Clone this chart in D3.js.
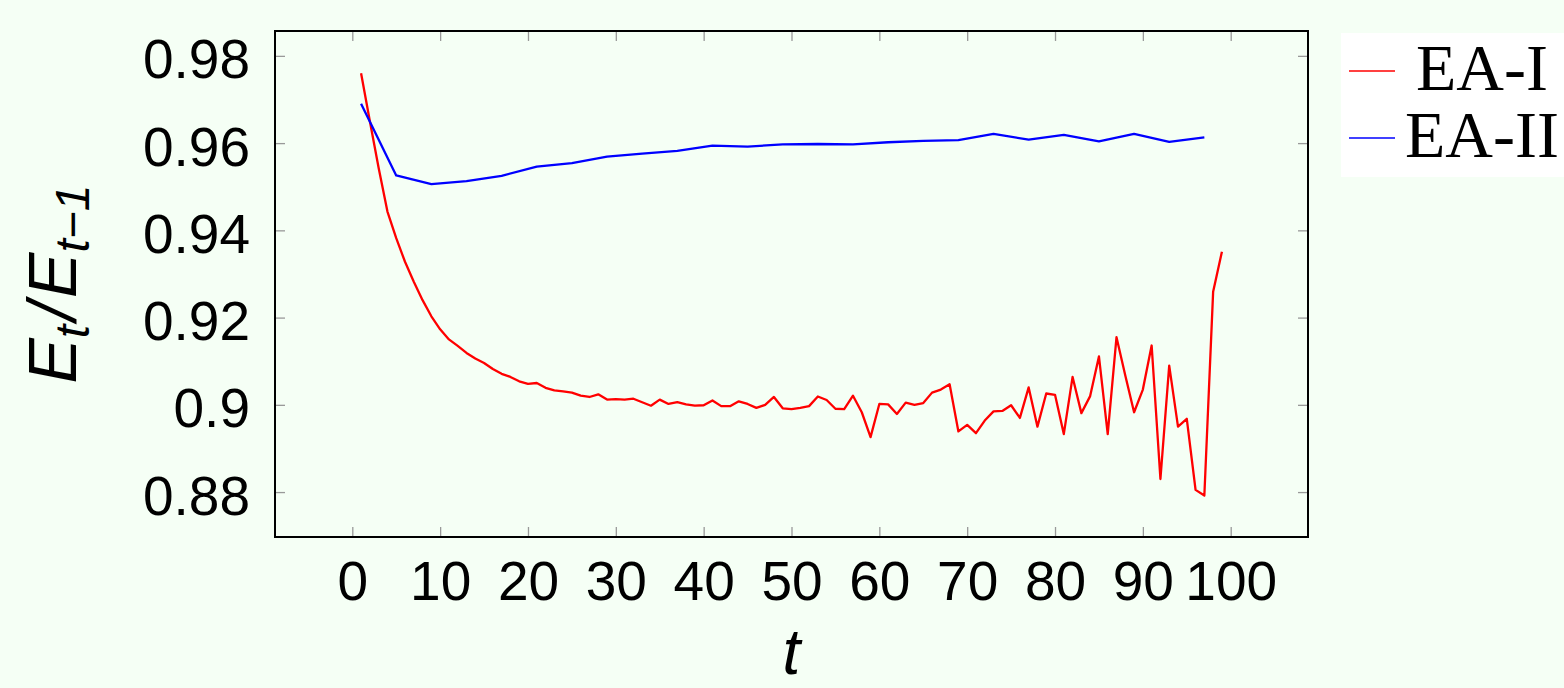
<!DOCTYPE html>
<html>
<head>
<meta charset="utf-8">
<script src="https://cdn.jsdelivr.net/npm/d3@7"></script>
<style>
  html, body { margin: 0; padding: 0; background: #f5fff5; }
  svg { display: block; }
</style>
</head>
<body>
<svg id="chart"></svg>
<script>
// EA-I: one value per step t = 1..99
var eaOneT = [1,2,3,4,5,6,7,8,9,10,11,12,13,14,15,16,17,18,19,20,
  21,22,23,24,25,26,27,28,29,30,31,32,33,34,35,36,37,38,39,40,
  41,42,43,44,45,46,47,48,49,50,51,52,53,54,55,56,57,58,59,60,
  61,62,63,64,65,66,67,68,69,70,71,72,73,74,75,76,77,78,79,80,
  81,82,83,84,85,86,87,88,89,90,91,92,93,94,95,96,97,98,99];
var eaOneValues = [0.976,0.965,0.9543,0.9443,0.9382,0.9328,0.9282,0.9240,0.9203,0.9173,
  0.9150,0.9135,0.9119,0.9106,0.9096,0.9082,0.9071,0.9064,0.9054,0.9048,
  0.9050,0.9039,0.9033,0.9031,0.9028,0.9021,0.9018,0.9024,0.9012,0.9013,
  0.9012,0.9014,0.9006,0.8998,0.9012,0.9002,0.9006,0.9001,0.8998,0.8999,
  0.9010,0.8997,0.8997,0.9008,0.9002,0.8993,0.9000,0.9018,0.8992,0.8990,
  0.8993,0.8997,0.9019,0.9011,0.8991,0.8990,0.9021,0.8983,0.8926,0.9002,
  0.9001,0.8979,0.9005,0.9000,0.9004,0.9028,0.9035,0.9047,0.8939,0.8954,
  0.8935,0.8964,0.8985,0.8986,0.8999,0.8970,0.9040,0.8950,0.9026,0.9023,
  0.8933,0.9064,0.8981,0.9020,0.9111,0.8933,0.9155,0.9067,0.8983,0.9035,
  0.9136,0.8830,0.9090,0.8950,0.8968,0.8805,0.8792,0.9259,0.9351];

// EA-II: every fourth step
var eaTwoT = [1,5,9,13,17,21,25,29,33,37,41,45,49,53,57,61,65,69,73,77,81,85,89,93,97];
var eaTwoValues = [0.969,0.9526,0.9506,0.9513,0.9525,0.9546,0.9554,0.9569,0.9576,0.9582,
  0.9594,0.9592,0.9597,0.9598,0.9597,0.9602,0.9605,0.9607,0.9621,0.9608,
  0.9619,0.9604,0.9621,0.9603,0.9613];

var xTicks = [0,10,20,30,40,50,60,70,80,90,100];
var yTicks = [0.88,0.90,0.92,0.94,0.96,0.98];
var yTickLabels = ["0.88","0.9","0.92","0.94","0.96","0.98"];
var seriesNames = ["EA-I","EA-II"];
var seriesColors = ["#ff0000","#0000ff"];

var svgWidth = 1564;
var svgHeight = 688;
var plot = { left: 275, right: 1308, top: 31, bottom: 537 };

var svg = d3.select("#chart")
  .attr("width", svgWidth)
  .attr("height", svgHeight);

var xScale = d3.scaleLinear().domain([-8.8, 108.8]).range([plot.left, plot.right]);
var yScale = d3.scaleLinear().domain([0.8697, 0.9857]).range([plot.bottom, plot.top]);

var tickFont = "'Liberation Sans', Arial, sans-serif";

// bottom axis with labels, ticks pointing inward
var xAxisG = svg.append("g")
  .attr("transform", "translate(0," + plot.bottom + ")")
  .call(d3.axisBottom(xScale).tickValues(xTicks).tickSize(-10).tickFormat(d3.format("d")));
xAxisG.select(".domain").remove();
xAxisG.selectAll("line").attr("stroke", "#999").attr("stroke-width", 1.3);
xAxisG.selectAll("text")
  .attr("y", 63).attr("dy", null)
  .attr("fill", "#000")
  .style("font-family", tickFont).style("font-size", "55px");

// top mirror ticks
var xTopG = svg.append("g")
  .attr("transform", "translate(0," + plot.top + ")")
  .call(d3.axisTop(xScale).tickValues(xTicks).tickSize(-10).tickFormat(""));
xTopG.select(".domain").remove();
xTopG.selectAll("line").attr("stroke", "#999").attr("stroke-width", 1.3);

// left axis with labels
var yAxisG = svg.append("g")
  .attr("transform", "translate(" + plot.left + ",0)")
  .call(d3.axisLeft(yScale).tickValues(yTicks).tickSize(-10)
    .tickFormat(function (d, i) { return yTickLabels[i]; }));
yAxisG.select(".domain").remove();
yAxisG.selectAll("line").attr("stroke", "#999").attr("stroke-width", 1.3);
yAxisG.selectAll("text")
  .attr("x", -25).attr("dy", "0.4em")
  .attr("fill", "#000")
  .style("font-family", tickFont).style("font-size", "55px");

// right mirror ticks
var yRightG = svg.append("g")
  .attr("transform", "translate(" + plot.right + ",0)")
  .call(d3.axisRight(yScale).tickValues(yTicks).tickSize(-10).tickFormat(""));
yRightG.select(".domain").remove();
yRightG.selectAll("line").attr("stroke", "#999").attr("stroke-width", 1.3);

// lines
var line = d3.line()
  .x(function (d) { return xScale(d[0]); })
  .y(function (d) { return yScale(d[1]); });

var series = [
  d3.zip(eaOneT, eaOneValues),
  d3.zip(eaTwoT, eaTwoValues)
];

series.forEach(function (s, i) {
  svg.append("path")
    .datum(s)
    .attr("fill", "none")
    .attr("stroke", seriesColors[i])
    .attr("stroke-width", 2.3)
    .attr("stroke-linejoin", "round")
    .attr("d", line);
});

// frame
svg.append("rect")
  .attr("x", plot.left).attr("y", plot.top)
  .attr("width", plot.right - plot.left)
  .attr("height", plot.bottom - plot.top)
  .attr("fill", "none")
  .attr("stroke", "#000")
  .attr("stroke-width", 2);

// axis titles
svg.append("text")
  .attr("x", (plot.left + plot.right) / 2)
  .attr("y", 674)
  .attr("text-anchor", "middle")
  .style("font-family", tickFont)
  .style("font-style", "italic")
  .style("font-size", "64px")
  .text("t");

var yTitle = svg.append("text")
  .attr("transform", "translate(76," + ((plot.top + plot.bottom) / 2) + ") rotate(-90)")
  .attr("text-anchor", "middle")
  .style("font-family", tickFont)
  .style("font-style", "italic")
  .style("font-size", "68px");
yTitle.append("tspan").text("E");
yTitle.append("tspan").attr("dy", 13).style("font-size", "48px").text("t");
yTitle.append("tspan").attr("dy", -13).attr("dx", 4).text("/");
yTitle.append("tspan").attr("dx", 4).text("E");
yTitle.append("tspan").attr("dy", 13).style("font-size", "48px").text("t\u22121");

// legend
var legend = svg.append("g");
legend.append("rect")
  .attr("x", 1341).attr("y", 33)
  .attr("width", 230).attr("height", 144)
  .attr("fill", "#fff");

seriesNames.forEach(function (name, i) {
  var ly = 71 + i * 67;
  legend.append("line")
    .attr("x1", 1349).attr("x2", 1395)
    .attr("y1", ly).attr("y2", ly)
    .attr("stroke", seriesColors[i])
    .attr("stroke-width", 1.5);
  legend.append("text")
    .attr("x", 1482).attr("y", ly + 19)
    .attr("text-anchor", "middle")
    .style("font-family", "'Liberation Serif', 'DejaVu Serif', serif")
    .style("font-size", "66px")
    .text(name);
});
</script>
</body>
</html>
